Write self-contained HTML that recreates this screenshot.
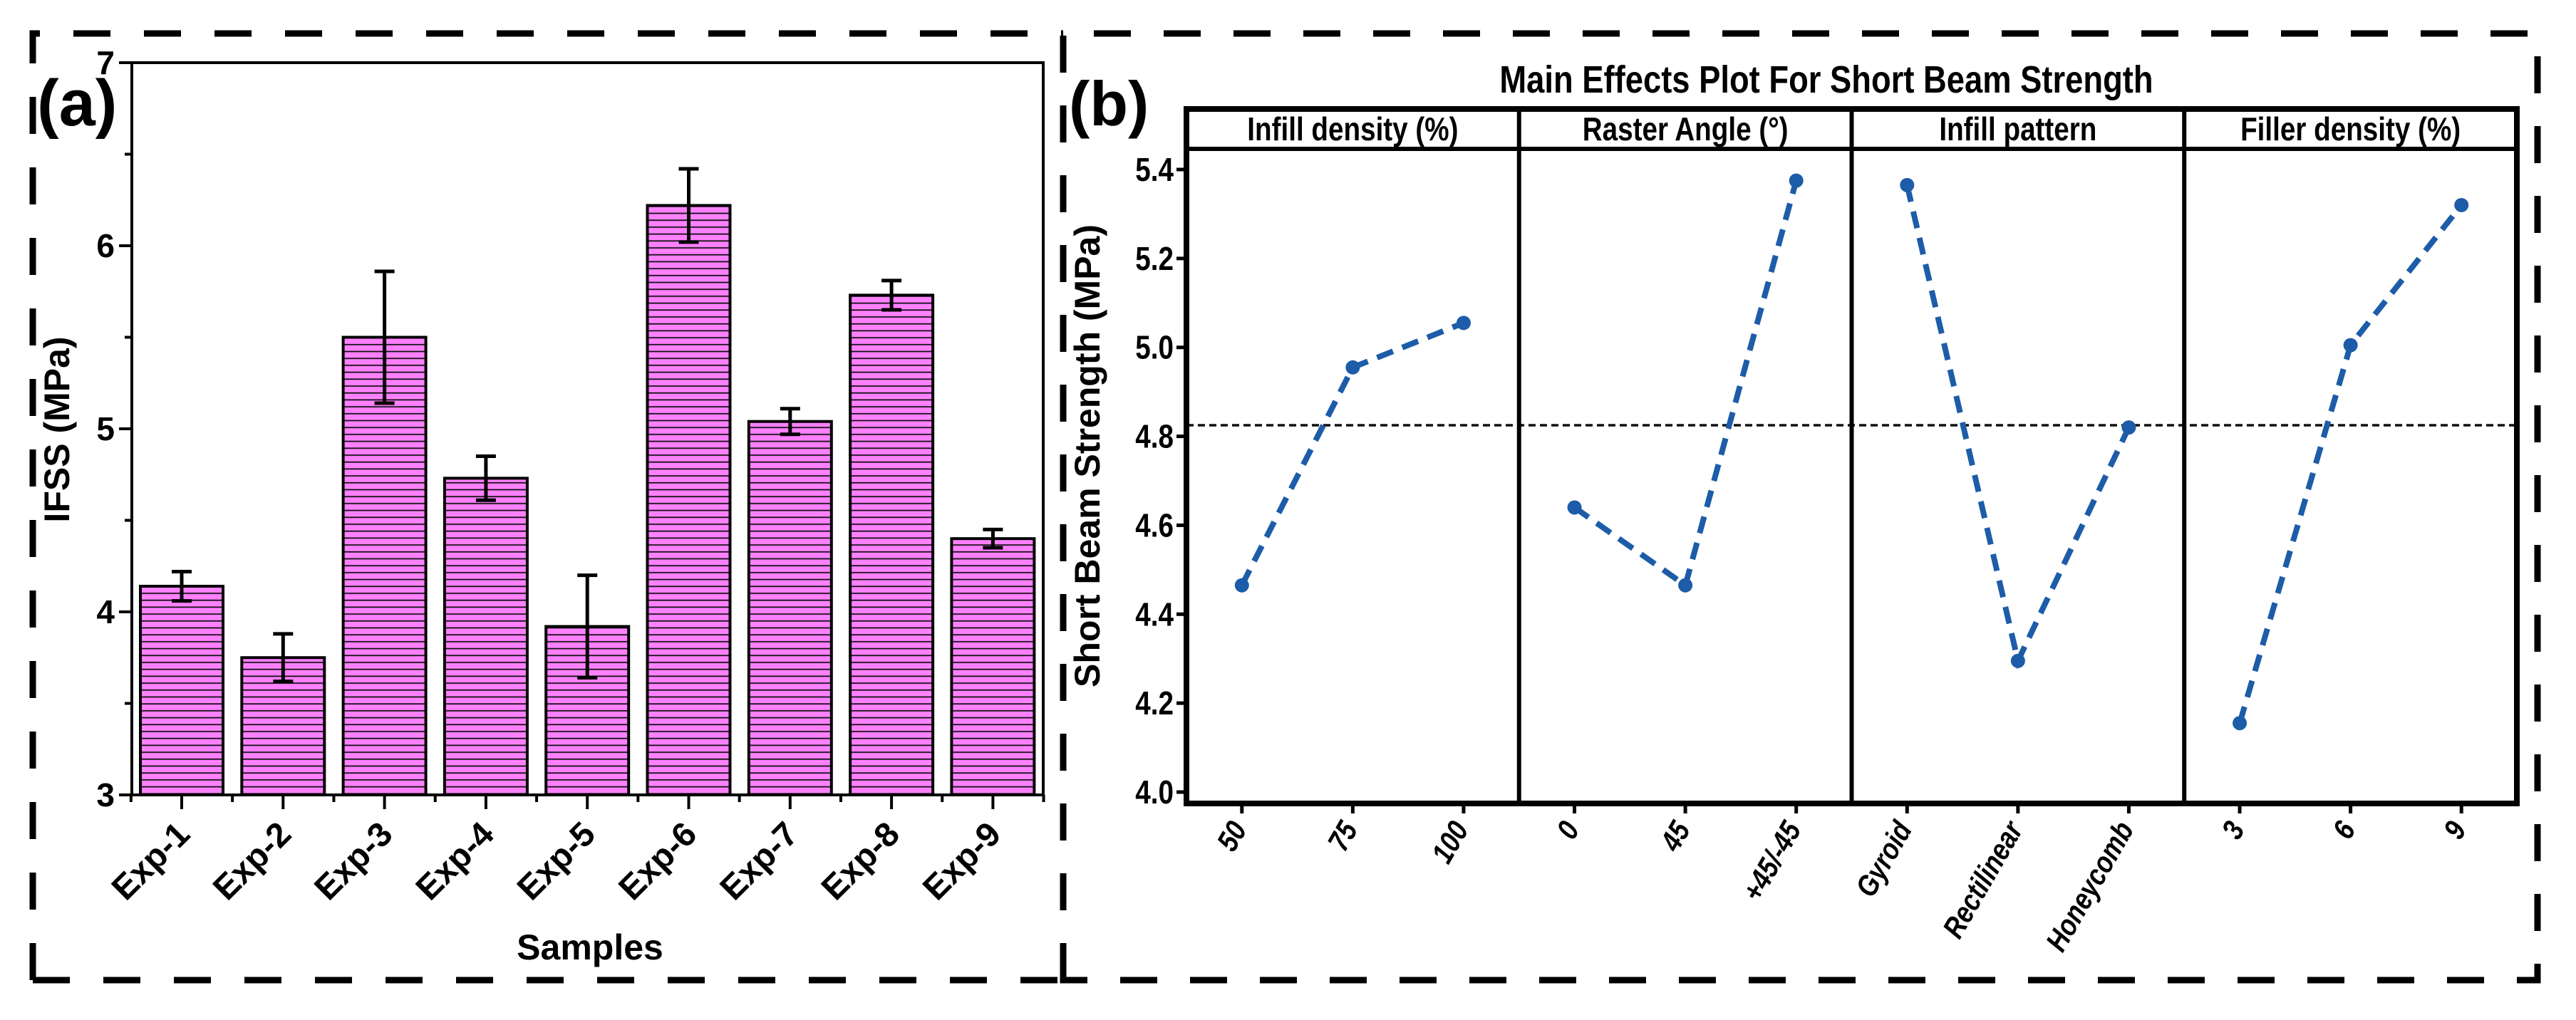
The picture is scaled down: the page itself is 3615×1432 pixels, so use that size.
<!DOCTYPE html>
<html><head><meta charset="utf-8">
<style>
html,body{margin:0;padding:0;background:#fff;}
svg{display:block;}
text{font-family:"Liberation Sans",Arial,sans-serif;font-weight:bold;fill:#000;}
.nar{font-family:"Liberation Sans Narrow","Liberation Sans",sans-serif;}
</style></head>
<body>
<svg id="fig" width="3615" height="1432" viewBox="0 0 3615 1432" xmlns="http://www.w3.org/2000/svg">
<defs>
<pattern id="hatch" patternUnits="userSpaceOnUse" width="20" height="9.7">
<rect width="20" height="9.7" fill="#ff80ff"/>
<rect y="7.6" width="20" height="1.8" fill="#111"/>
</pattern>
</defs>
<g fill="none" stroke="#000" stroke-width="9" stroke-dasharray="52 47">
<path d="M46 1376 L46 47 L1492 47" />
<path d="M46 1376 L1492 1376" />
</g>
<g fill="none" stroke="#000" stroke-width="9" stroke-dasharray="52 46">
<path d="M1492 1376 L1492 47 L3561 47 L3561 1376 Z" />
</g>
<g id="chartA"></g>
<g id="chartB"></g>
</svg>
<script>
// ---- Panel (a) data ----
const categoriesA = ["Exp-1","Exp-2","Exp-3","Exp-4","Exp-5","Exp-6","Exp-7","Exp-8","Exp-9"];
const ifssValues = [4.14,3.75,5.50,4.73,3.92,6.22,5.04,5.73,4.40];
const ifssErrors = [0.08,0.13,0.36,0.12,0.28,0.20,0.07,0.08,0.05];
const yTicksA = [3,4,5,6,7];
// ---- Panel (b) data ----
const factorNames = ["Infill density (%)","Raster Angle (°)","Infill pattern","Filler density (%)"];
const factorLevels = [["50","75","100"],["0","45","+45/-45"],["Gyroid","Rectilinear","Honeycomb"],["3","6","9"]];
const infillDensityMeans = [4.465,4.955,5.055];
const rasterAngleMeans = [4.64,4.465,5.375];
const infillPatternMeans = [5.365,4.295,4.82];
const fillerDensityMeans = [4.155,5.005,5.32];
const grandMean = 4.825;
const yTicksB = [4.0,4.2,4.4,4.6,4.8,5.0,5.2,5.4];

const NS="http://www.w3.org/2000/svg";
function mk(parent,tag,attrs,text){const e=document.createElementNS(NS,tag);for(const k in attrs)e.setAttribute(k,attrs[k]);if(text!==undefined)e.textContent=text;parent.appendChild(e);return e;}
function narrow(x,y,extra){return `translate(${x} ${y}) ${extra||''} scale(0.84 1)`;}

// ===== Panel A =====
(function(){
const g=document.getElementById('chartA');
const L=185,R=1464,T=88,B=1116;
const yA=v=>B-(v-3)/(7-3)*(B-T);
const step=142.3, x0=255;
const xA=i=>x0+i*step;
categoriesA.forEach((c,i)=>{
  const bw=116, x=xA(i)-bw/2, yt=yA(ifssValues[i]);
  const r=mk(g,'rect',{x:x,y:yt,width:bw,height:B-yt,fill:'url(#hatch)',stroke:'#000','stroke-width':4});
  
  
  const hi=yA(ifssValues[i]+ifssErrors[i]), lo=yA(ifssValues[i]-ifssErrors[i]);
  const eb=mk(g,'path',{d:`M${xA(i)} ${hi} L${xA(i)} ${lo} M${xA(i)-14} ${hi} L${xA(i)+14} ${hi} M${xA(i)-14} ${lo} L${xA(i)+14} ${lo}`,stroke:'#000','stroke-width':5,fill:'none'});
  
  
  const tx=xA(i)+14, ty=B+58;
  const t=mk(g,'text',{x:tx,y:ty,'font-size':48,'text-anchor':'end',transform:`rotate(-45 ${tx} ${ty})`},c);
  
  
});
const fr=mk(g,'rect',{x:L,y:T,width:R-L,height:B-T,fill:'none',stroke:'#000','stroke-width':4});


yTicksA.forEach(v=>{
  mk(g,'line',{x1:L-18,x2:L,y1:yA(v),y2:yA(v),stroke:'#000','stroke-width':4});
  const t=mk(g,'text',{x:L-24,y:yA(v)+16,'font-size':46,'text-anchor':'end'},String(v));
  
  
  if(v<7) mk(g,'line',{x1:L-10,x2:L,y1:yA(v+0.5),y2:yA(v+0.5),stroke:'#000','stroke-width':4});
});
for(let i=0;i<categoriesA.length;i++){
  mk(g,'line',{x1:xA(i),x2:xA(i),y1:B,y2:B+20,stroke:'#000','stroke-width':4});
}
for(let i=0;i<=categoriesA.length;i++){
  const xm=xA(i)-step/2;
  mk(g,'line',{x1:xm,x2:xm,y1:B,y2:B+10,stroke:'#000','stroke-width':4});
}
let t=mk(g,'text',{x:828,y:1347,'font-size':50,'text-anchor':'middle'},'Samples');

t=mk(g,'text',{x:97,y:603,'font-size':50,'text-anchor':'middle',transform:'rotate(-90 97 603)'},'IFSS (MPa)');

t=mk(g,'text',{x:52,y:176,'font-size':92},'(a)');

})();

// ===== Panel B =====
(function(){
const g=document.getElementById('chartB');
const L=1665,R=3532,T=153,S=209,B=1128;
const pw=(R-L)/4;
const yB=v=>1112-(v-4.0)/(5.4-4.0)*(1112-238);
const series=[infillDensityMeans,rasterAngleMeans,infillPatternMeans,fillerDensityMeans];
const xB=(p,i)=>L+p*pw+(i+0.5)/3*pw;
let t=mk(g,'text',{x:0,y:0,'font-size':54,'text-anchor':'middle','class':'nar',transform:narrow(2563,130)},'Main Effects Plot For Short Beam Strength');

t=mk(g,'text',{x:1500,y:176,'font-size':88},'(b)');

const ml=mk(g,'line',{x1:L,x2:R,y1:yB(grandMean),y2:yB(grandMean),stroke:'#111','stroke-width':3.5,'stroke-dasharray':'10 6'});

factorNames.forEach((f,p)=>{
  const st=mk(g,'text',{x:0,y:0,'font-size':46,'text-anchor':'middle','class':'nar',transform:narrow(L+p*pw+pw/2,197)},f);
  
  const vals=series[p];
  const d=vals.map((v,i)=>(i?'L':'M')+xB(p,i)+' '+yB(v)).join(' ');
  const ln=mk(g,'path',{d:d,fill:'none',stroke:'#1d5ca8','stroke-width':8,'stroke-dasharray':'24 14'});
  
  vals.forEach((v,i)=>{
    const c=mk(g,'circle',{cx:xB(p,i),cy:yB(v),r:10,fill:'#1d5ca8'});
    
    mk(g,'line',{x1:xB(p,i),x2:xB(p,i),y1:B,y2:B+14,stroke:'#000','stroke-width':5});
    const tx=xB(p,i)+8, ty=B+36;
    const lb=mk(g,'text',{x:0,y:0,'font-size':42,'font-style':'italic','text-anchor':'end','class':'nar',transform:narrow(tx,ty,'rotate(-60)')},factorLevels[p][i]);
    
  });
  if(p>0) mk(g,'line',{x1:L+p*pw,x2:L+p*pw,y1:T,y2:B,stroke:'#000','stroke-width':6});
});
const fr=mk(g,'rect',{x:L,y:T,width:R-L,height:B-T,fill:'none',stroke:'#000','stroke-width':8});

mk(g,'line',{x1:L,x2:R,y1:S,y2:S,stroke:'#000','stroke-width':6});
yTicksB.forEach(v=>{
  mk(g,'line',{x1:L-14,x2:L,y1:yB(v),y2:yB(v),stroke:'#000','stroke-width':5});
  const tk=mk(g,'text',{x:0,y:0,'font-size':46,'text-anchor':'end','class':'nar',transform:narrow(L-18,yB(v)+16)},v.toFixed(1));
  
});
t=mk(g,'text',{x:1543,y:640,'font-size':50,'text-anchor':'middle',transform:'rotate(-90 1543 640)'},'Short Beam Strength (MPa)');

})();
</script>
</body></html>
